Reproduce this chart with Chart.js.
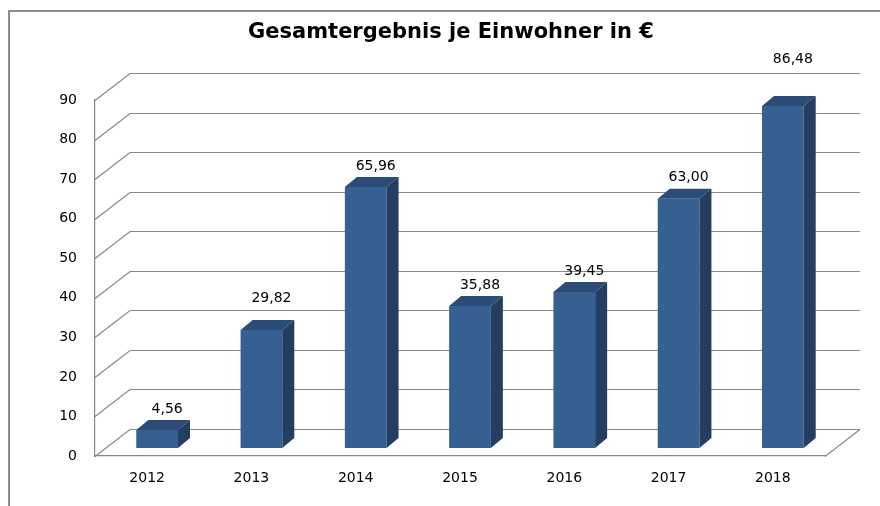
<!DOCTYPE html>
<html>
<head>
<meta charset="utf-8">
<script src="https://cdn.jsdelivr.net/npm/chart.js@4/dist/chart.umd.min.js"></script>
<style>
  html, body { margin: 0; padding: 0; background: #fff; overflow: hidden; }
  #wrap { width: 880px; height: 506px; position: relative; }
</style>
</head>
<body>
<div id="wrap"><canvas id="chart"></canvas></div>
<script>
const years = ['2012', '2013', '2014', '2015', '2016', '2017', '2018'];
const values = [4.56, 29.82, 65.96, 35.88, 39.45, 63.00, 86.48];
const yTicks = [0, 10, 20, 30, 40, 50, 60, 70, 80, 90];
const titleText = 'Gesamtergebnis je Einwohner in €';

const FONT = 'Tahoma, "DejaVu Sans", sans-serif';
const gridColor = '#878787';
// 3D look: back wall offset and bar placement inside the depth
const wall = { dx: 35, dy: -27 };
const barShift = { dx: 10, dy: -8 };
const barDepth = { dx: 12, dy: -10 };

const fmt = v => v.toFixed(2).replace('.', ',');

const frame3d = {
    id: 'frame3d',
    beforeDraw(chart) {
        const ctx = chart.ctx;
        ctx.save();
        ctx.fillStyle = '#fff';
        ctx.fillRect(0, 0, chart.width, chart.height);
        ctx.strokeStyle = '#8c8c8c';
        ctx.lineWidth = 2;
        ctx.strokeRect(9, 11, 1000, 1000);
        // title, centred over the whole frame like the original
        ctx.fillStyle = '#000';
        ctx.font = 'bold 21px ' + FONT;
        ctx.textAlign = 'center';
        ctx.textBaseline = 'middle';
        ctx.fillText(titleText, 451, 33);
        ctx.restore();
    },
    beforeDatasetsDraw(chart) {
        const ctx = chart.ctx;
        const y = chart.scales.y;
        const l = chart.chartArea.left, r = chart.chartArea.right;
        ctx.save();
        ctx.strokeStyle = gridColor;
        ctx.lineWidth = 1.2;
        yTicks.forEach(t => {
            const py = Math.round(y.getPixelForValue(t)) + 0.5;
            ctx.beginPath();
            ctx.moveTo(l, py);
            ctx.lineTo(l + wall.dx, py + wall.dy);
            ctx.lineTo(r + wall.dx, py + wall.dy);
            ctx.stroke();
        });
        // right edge of the floor
        const py0 = Math.round(y.getPixelForValue(0)) + 0.5;
        ctx.beginPath();
        ctx.moveTo(r, py0);
        ctx.lineTo(r + wall.dx, py0 + wall.dy);
        ctx.stroke();
        ctx.restore();
    },
    beforeDatasetDraw(chart) {
        chart.ctx.save();
        chart.ctx.translate(barShift.dx, barShift.dy);
    },
    afterDatasetDraw(chart, args) {
        const ctx = chart.ctx;
        const meta = args.meta;
        meta.data.forEach(bar => {
            const p = bar.getProps(['x', 'y', 'base', 'width'], true);
            const left = p.x - p.width / 2, right = p.x + p.width / 2;
            // top face
            ctx.fillStyle = '#2c4c78';
            ctx.beginPath();
            ctx.moveTo(left, p.y);
            ctx.lineTo(left + barDepth.dx, p.y + barDepth.dy);
            ctx.lineTo(right + barDepth.dx, p.y + barDepth.dy);
            ctx.lineTo(right, p.y);
            ctx.closePath();
            ctx.fill();
            // side face
            ctx.fillStyle = '#243e61';
            ctx.beginPath();
            ctx.moveTo(right, p.y);
            ctx.lineTo(right + barDepth.dx, p.y + barDepth.dy);
            ctx.lineTo(right + barDepth.dx, p.base + barDepth.dy);
            ctx.lineTo(right, p.base);
            ctx.closePath();
            ctx.fill();
        });
        ctx.restore();

        // value labels
        const extraLift = { 1: 11, 6: 26 };
        ctx.save();
        ctx.fillStyle = '#000';
        ctx.font = '14px ' + FONT;
        ctx.textAlign = 'center';
        ctx.textBaseline = 'middle';
        meta.data.forEach((bar, i) => {
            const p = bar.getProps(['x', 'y'], true);
            const lift = extraLift[i] || 0;
            ctx.fillText(fmt(values[i]), p.x + 20, p.y + barShift.dy + barDepth.dy - 11 - lift);
        });
        ctx.restore();
    }
};

new Chart(document.getElementById('chart'), {
    type: 'bar',
    data: {
        labels: years,
        datasets: [{
            data: values,
            backgroundColor: '#376092',
            borderWidth: 0,
            barPercentage: 0.4,
            categoryPercentage: 1.0,
            clip: false
        }]
    },
    options: {
        responsive: true,
        maintainAspectRatio: false,
        animation: false,
        layout: { padding: { left: 0, right: 55, top: 100, bottom: 0 } },
        plugins: {
            legend: { display: false },
            tooltip: { enabled: false },
            title: { display: false }
        },
        scales: {
            x: {
                grid: { display: false, drawTicks: false },
                border: { display: true, color: gridColor, width: 1.2 },
                ticks: { color: '#000', font: { family: FONT, size: 14 }, padding: 14 },
                afterFit(scale) { scale.height = 50; }
            },
            y: {
                min: 0,
                max: 90,
                grid: { display: false, drawTicks: false },
                border: { display: true, color: gridColor, width: 1.2 },
                ticks: {
                    stepSize: 10,
                    color: '#000',
                    font: { family: FONT, size: 14 },
                    padding: 18
                },
                afterFit(scale) { scale.width = 95; }
            }
        }
    },
    plugins: [frame3d]
});
</script>
</body>
</html>
